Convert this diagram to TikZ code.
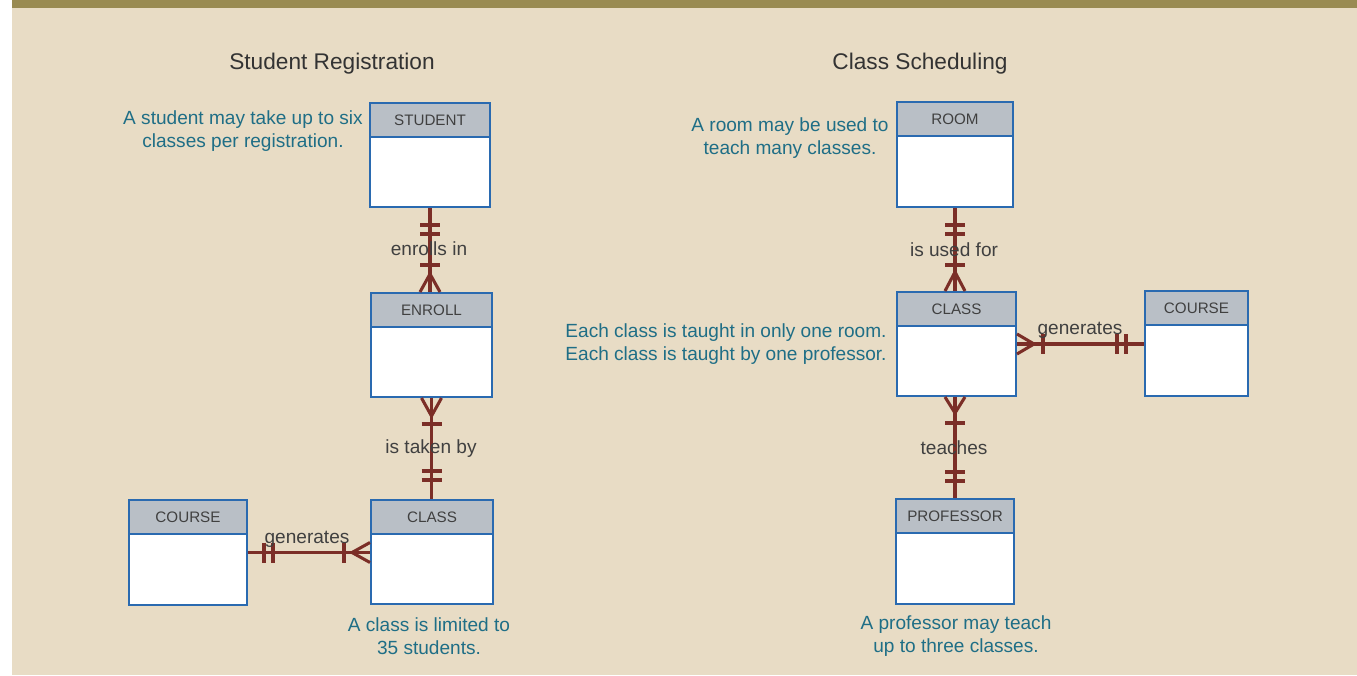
\documentclass[tikz,border=0pt]{standalone}
\usepackage{fontspec}
\setmainfont{Liberation Sans}
\usetikzlibrary{calc}
\definecolor{bg}{HTML}{E8DCC5}
\definecolor{topbar}{HTML}{998B52}
\definecolor{entblue}{HTML}{2A6AB0}
\definecolor{hdrgray}{HTML}{B9BFC6}
\definecolor{relred}{HTML}{7B2E27}
\definecolor{noteteal}{HTML}{1F6E86}
\definecolor{labgray}{HTML}{404040}
\definecolor{titlegray}{HTML}{333333}
\newcommand\entity[6]{%
  \node[ent, minimum width=#4*0.75pt, minimum height=#5*0.75pt] (#1) at (#2,#3) {};
  \node[hdr, minimum width=#4*0.75pt, minimum height=34*0.75pt, anchor=north] (#1-h) at (#1.north) {#6};
}
% bar across a vertical line at point #1, offset #2 (down positive)
\newcommand\hbarmark[2]{\draw[rel] ($(#1)+(-10,#2)$) -- ($(#1)+(10,#2)$);}
% bar across a horizontal line
\newcommand\vbarmark[2]{\draw[rel] ($(#1)+(#2,-10)$) -- ($(#1)+(#2,10)$);}
% crow's foot on vertical line: spread at #1, converging at offset #2
\newcommand\crowv[2]{\draw[rel] ($(#1)+(-10,0)$) -- ($(#1)+(0,#2)$) -- ($(#1)+(10,0)$);}
\newcommand\crowh[2]{\draw[rel] ($(#1)+(0,-10)$) -- ($(#1)+(#2,0)$) -- ($(#1)+(0,10)$);}
\begin{document}
\begin{tikzpicture}[x=0.75pt,y=-0.75pt,
  ent/.style={draw=entblue, line width=1.5pt, fill=white, inner sep=0pt, rectangle},
  hdr/.style={draw=entblue, line width=1.5pt, fill=hdrgray, inner sep=0pt, rectangle,
    text=labgray, font=\fontsize{11.4}{13}\selectfont},
  rel/.style={draw=relred, line width=2.3pt},
  note/.style={text=noteteal, font=\fontsize{14.3}{17.25}\selectfont, align=center, inner sep=0pt},
  lab/.style={text=labgray, font=\fontsize{14.3}{17}\selectfont, inner sep=0pt},
  ttl/.style={text=titlegray, font=\fontsize{17}{20}\selectfont, inner sep=0pt}]
\useasboundingbox (0,0) rectangle (1357,675);
\fill[white] (0,0) rectangle (1357,675);
\fill[bg] (12,0) rectangle (1357,675);
\fill[topbar] (12,0) rectangle (1357,8);

% titles
\node[ttl] (t1) at (332,64) {Student Registration};
\node[ttl] (t2) at (920,64) {Class Scheduling};

% entities
\entity{student}{430}{155}{120}{104}{STUDENT}
\entity{enroll}{431.5}{345}{121}{104}{ENROLL}
\entity{classL}{432}{552}{122}{104}{CLASS}
\entity{courseL}{188}{552.5}{118}{105}{COURSE}
\entity{room}{955}{154.5}{116}{105}{ROOM}
\entity{classR}{956.5}{344}{119}{104}{CLASS}
\entity{courseR}{1196.5}{343.5}{103}{105}{COURSE}
\entity{prof}{955}{551.5}{118}{105}{PROFESSOR}

% STUDENT - ENROLL
\coordinate (a1) at (student.south);
\coordinate (a2) at (student.south |- enroll.north);
\draw[rel] (a1) -- (a2);
\hbarmark{a1}{17}\hbarmark{a1}{26}
\hbarmark{a2}{-27}\crowv{a2}{-18}
\node[lab] (l1) at (429,249) {enrolls in};

% ENROLL - CLASS (left)
\coordinate (b1) at (enroll.south);
\coordinate (b2) at (enroll.south |- classL.north);
\draw[rel] (b1) -- (b2);
\crowv{b1}{18}\hbarmark{b1}{26}
\hbarmark{b2}{-28}\hbarmark{b2}{-19}
\node[lab] (l2) at (431,449) {is taken by};

% COURSE - CLASS (left)
\coordinate (c1) at (courseL.east);
\coordinate (c2) at (courseL.east -| classL.west);
\draw[rel] (c1) -- (c2);
\vbarmark{c1}{16}\vbarmark{c1}{25}
\vbarmark{c2}{-26}\crowh{c2}{-18}
\node[lab] (l3) at (307,539) {generates};

% ROOM - CLASS (right)
\coordinate (d1) at (room.south);
\coordinate (d2) at (room.south |- classR.north);
\draw[rel] (d1) -- (d2);
\hbarmark{d1}{17}\hbarmark{d1}{26}
\hbarmark{d2}{-26}\crowv{d2}{-19}
\node[lab] (l4) at (954,250) {is used for};

% CLASS - COURSE (right)
\coordinate (e1) at (classR.east);
\coordinate (e2) at (classR.east -| courseR.west);
\draw[rel] (e1) -- (e2);
\crowh{e1}{17}\vbarmark{e1}{26}
\vbarmark{e2}{-27}\vbarmark{e2}{-18}
\node[lab] (l5) at (1080,330) {generates};

% CLASS - PROFESSOR
\coordinate (f1) at (classR.south -| prof.north);
\coordinate (f2) at (prof.north);
\draw[rel] (f1) -- (f2);
\crowv{f1}{16}\hbarmark{f1}{26}
\hbarmark{f2}{-26}\hbarmark{f2}{-17}
\node[lab] (l6) at (954,448) {teaches};

% notes
\node[note] (n1) at (243,131) {A student may take up to six\\classes per registration.};
\node[note] (n2) at (790,138) {A room may be used to\\teach many classes.};
\node[note] (n3) at (726,344) {Each class is taught in only one room.\\Each class is taught by one professor.};
\node[note] (n4) at (429,636) {A class is limited to\\35 students.};
\node[note] (n5) at (956,636) {A professor may teach\\up to three classes.};
\end{tikzpicture}
\end{document}
